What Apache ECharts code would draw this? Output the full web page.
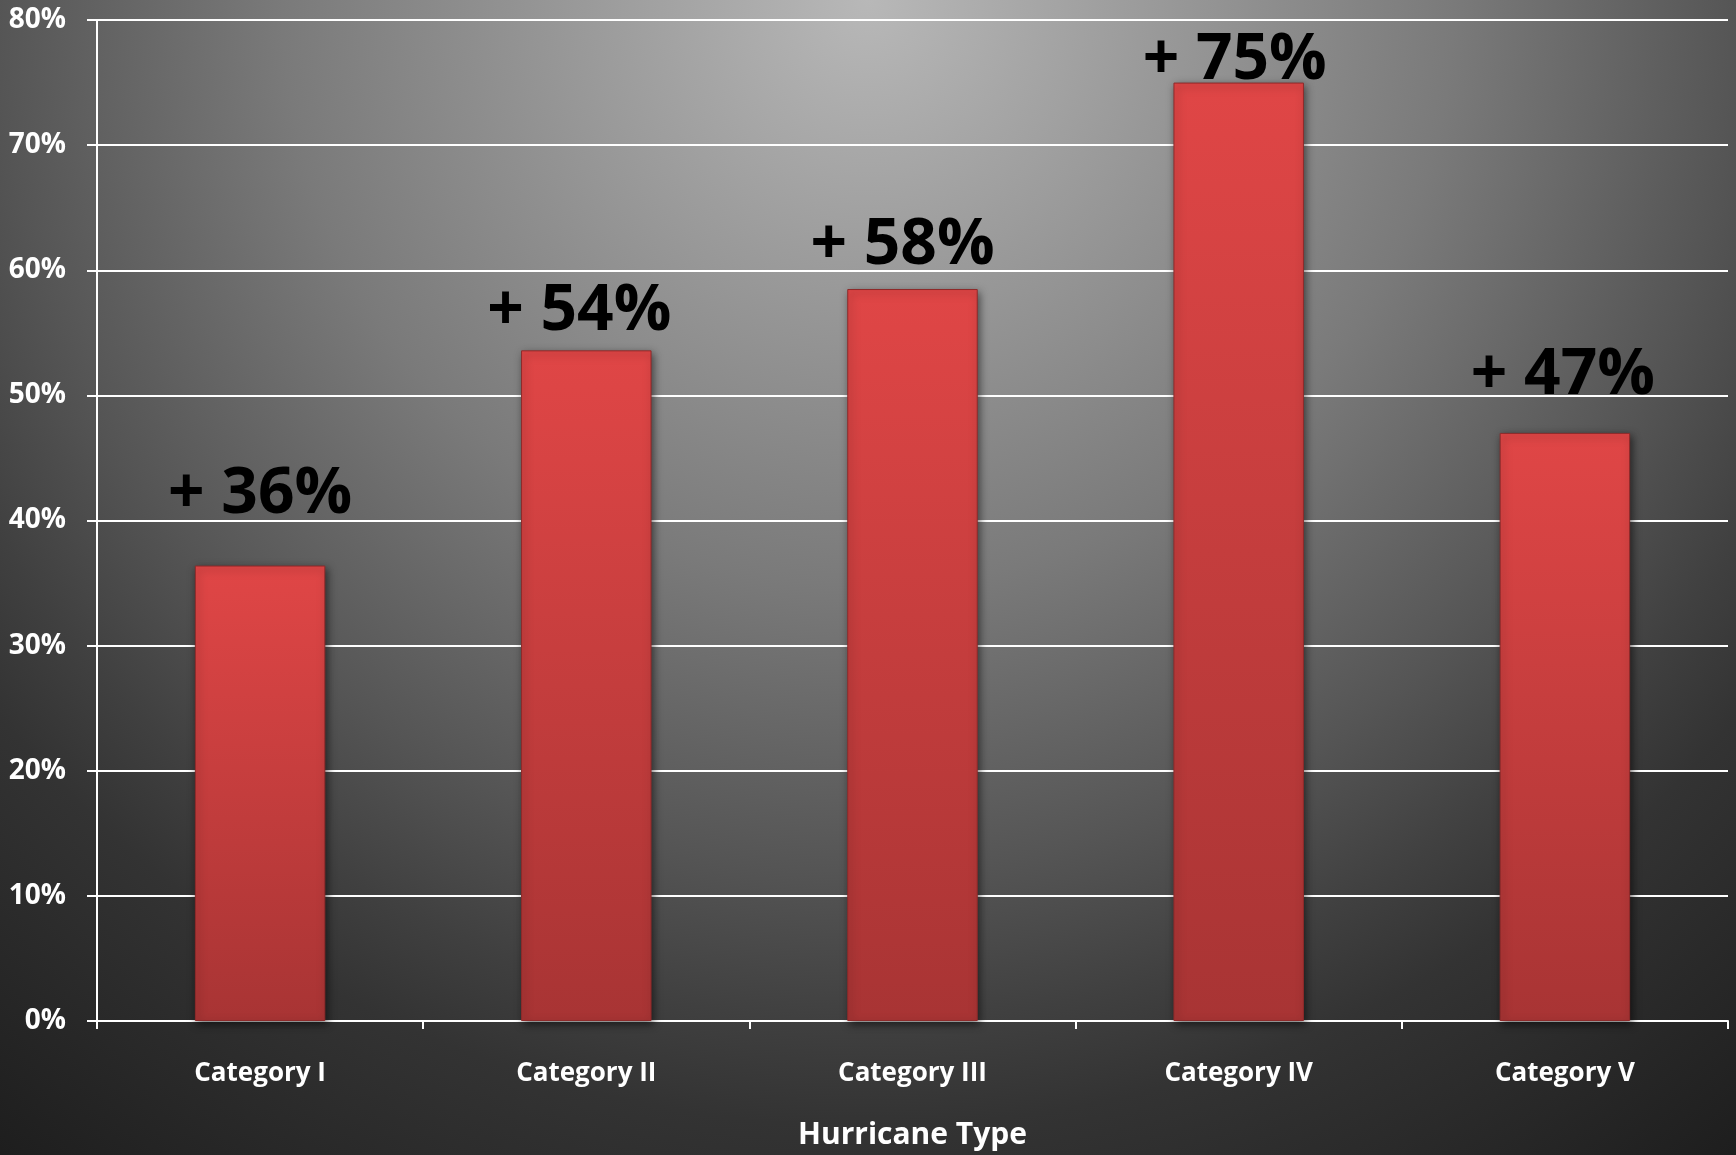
<!DOCTYPE html>
<html>
<head>
<meta charset="utf-8">
<script src="https://cdn.jsdelivr.net/npm/echarts@6/dist/echarts.min.js"></script>
<style>
	html,body{margin:0;padding:0;}
	#chart{width:1736px;height:1155px;}
</style>
</head>
<body>
<div id="chart"></div>
<script>
	// hurricane categories and increase values (%)
	var categories = ['Category I','Category II','Category III','Category IV','Category V'];
	var values = [36.4,53.6,58.5,75.0,47.0];
	var valueLabels = ['+ 36%','+ 54%','+ 58%','+ 75%','+ 47%'];
	var axisName = 'Hurricane Type';

	// labels sit at uneven places above the bars in the original (px shift)
	var labelShiftX = [0,-7,-10,-4,-2];
	var labelShiftY = [-39,-7,-11,10,-25];

	var font = '"Open Sans", "DejaVu Sans", sans-serif';
	var myChart = echarts.init(document.getElementById('chart'));

	var barData = values.map(function(v,i){
		return {value:v,label:{offset:[labelShiftX[i],labelShiftY[i]]}};
	});

	var option = {
		backgroundColor: {
			type:'radial', x:0.5, y:0, r:1.3,
			colorStops:[
				{offset:0, color:'#b8b8b8'},
				{offset:0.39, color:'#7a7a7a'},
				{offset:0.58, color:'#555555'},
				{offset:0.68, color:'#404040'},
				{offset:0.75, color:'#333333'},
				{offset:1, color:'#1a1a1a'}
			]
		},
		animation:false,
		grid:{left:97,right:8,top:20,bottom:133},
		xAxis:{
			type:'category',
			data:categories,
			name:axisName,
			nameLocation:'middle',
			nameGap:99,
			nameTextStyle:{color:'#fff',fontSize:30,fontWeight:'bold',fontFamily:font},
			axisLine:{lineStyle:{color:'#fff',width:2}},
			axisTick:{show:true,length:8,lineStyle:{color:'#fff',width:2}},
			axisLabel:{color:'#fff',fontSize:26,fontWeight:'bold',fontFamily:font,margin:40}
		},
		yAxis:{
			type:'value',
			min:0,max:80,interval:10,
			axisLine:{show:true,lineStyle:{color:'#fff',width:2}},
			axisTick:{show:true,length:10,lineStyle:{color:'#fff',width:2}},
			splitLine:{lineStyle:{color:'#fff',width:2}},
			axisLabel:{formatter:'{value}%',color:'#fff',fontSize:28,fontWeight:'bold',fontFamily:font,margin:31}
		},
		series:[{
			type:'bar',
			data:barData,
			barCategoryGap:'60%',
			itemStyle:{
				color:{type:'linear',x:0,y:0,x2:0,y2:1,colorStops:[
					{offset:0,color:'#e04646'},
					{offset:1,color:'#a83434'}
				]},
				borderColor:'#8e2a2a',
				borderWidth:1,
				shadowColor:'rgba(0,0,0,0.55)',
				shadowBlur:8,
				shadowOffsetX:2,
				shadowOffsetY:3
			},
			label:{
				show:true,
				position:'top',
				distance:0,
				color:'#000',
				fontSize:64,
				fontWeight:'bold',
				fontFamily:font,
				formatter:function(p){return valueLabels[p.dataIndex];}
			}
		}]
	};
	myChart.setOption(option);
</script>
</body>
</html>
